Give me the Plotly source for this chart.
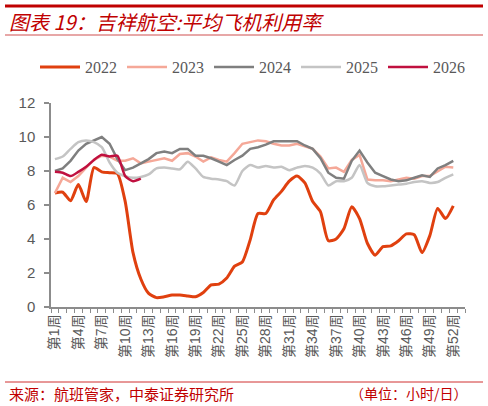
import plotly.graph_objects as go

# weekly average aircraft utilisation (hours/day)
weeks = list(range(1, 53))
tick_weeks = list(range(1, 53, 3))
tick_labels = ["第%d周" % w for w in tick_weeks]

y2022 = [6.7, 6.75, 6.25, 7.2, 6.2, 8.2, 7.95, 7.9, 7.85, 6.2,
         3.2, 1.65, 0.8, 0.55, 0.6, 0.7, 0.7, 0.65, 0.6, 0.85,
         1.3, 1.35, 1.7, 2.4, 2.65, 3.95, 5.5, 5.5, 6.3, 6.8,
         7.4, 7.7, 7.3, 6.2, 5.6, 3.9, 4.0, 4.6, 5.9, 5.2,
         3.75, 3.05, 3.55, 3.6, 3.9, 4.3, 4.25, 3.2, 4.2, 5.8,
         5.2, 5.95]
y2023 = [6.7, 7.6, 7.35, 7.7, 8.2, 8.65, 8.9, 8.85, 8.6, 8.6,
         8.75, 8.45, 8.55, 8.65, 8.75, 8.6, 9.0, 9.05, 8.85, 8.55,
         8.8, 8.65, 8.55, 9.05, 9.6, 9.7, 9.8, 9.75, 9.6, 9.5,
         9.5, 9.6, 9.45, 9.3, 8.85, 8.15, 8.2, 7.95, 8.65, 8.95,
         7.5, 7.45, 7.45, 7.4, 7.5, 7.6, 7.55, 7.7, 7.7, 7.95,
         8.25, 8.2]
y2024 = [8.0, 8.15, 8.6, 9.2, 9.6, 9.8, 10.0, 9.6, 8.7, 8.05,
         8.2, 8.45, 8.7, 9.05, 9.15, 9.05, 9.3, 9.3, 8.9, 8.9,
         8.75, 8.55, 8.35, 8.65, 8.9, 9.3, 9.4, 9.55, 9.75, 9.75,
         9.75, 9.75, 9.5, 9.3, 8.75, 7.9, 7.6, 7.55, 8.6, 9.2,
         8.5, 7.9, 7.7, 7.5, 7.4, 7.45, 7.6, 7.75, 7.65, 8.15,
         8.35, 8.6]
y2025 = [8.7, 8.85, 9.3, 9.7, 9.8, 9.7, 9.4, 8.5, 7.9, 7.7,
         7.6, 7.65, 7.8, 8.15, 8.2, 8.15, 8.1, 8.55, 8.15, 7.65,
         7.55, 7.5, 7.4, 7.15, 8.0, 8.35, 8.2, 8.3, 8.2, 8.25,
         8.05, 8.2, 8.3, 8.2, 7.85, 7.15, 7.4, 7.4, 7.6, 8.35,
         7.3, 7.1, 7.1, 7.15, 7.2, 7.25, 7.35, 7.4, 7.3, 7.35,
         7.6, 7.8]
y2026 = [7.95, 7.9, 7.7, 7.95, 8.25, 8.65, 8.95, 8.85, 8.9, 7.7,
         7.4, 7.55]

series = [
    ("2022", y2022, "#E0400F", 3, "spline"),
    ("2023", y2023, "#F5A898", 2.5, "linear"),
    ("2024", y2024, "#7F7F7F", 2.5, "linear"),
    ("2025", y2025, "#C4C4C4", 2.5, "spline"),
    ("2026", y2026, "#C0103F", 2.5, "spline"),
]

# plot area in pixels: x 51..465, y 103..307
L, R, T, B = 51, 465, 103, 307


def px(x):
    return (x - L) / (R - L)


def py(y):
    return (B - y) / (B - T)


fig = go.Figure()
for name, vals, color, width, shape in series:
    fig.add_trace(go.Scatter(x=weeks[:len(vals)], y=vals, name=name, mode="lines",
                             line=dict(color=color, width=width, shape=shape, smoothing=0.6)))

red = "#C00000"
axis_gray = "#8C8C8C"
text_gray = "#595959"

fig.update_layout(
    width=488, height=406,
    margin=dict(l=L, r=488 - R, t=T, b=406 - B),
    plot_bgcolor="white", paper_bgcolor="white",
    showlegend=True,
    legend=dict(orientation="h", x=px(35), y=py(67), xanchor="left", yanchor="middle",
                itemwidth=40, font=dict(family="Liberation Serif", size=16, color=text_gray),
                bgcolor="rgba(0,0,0,0)"),
    font=dict(family="Liberation Sans, Noto Sans CJK SC", color=text_gray),
)

fig.update_xaxes(range=[0.5, 53.5], tickmode="array", tickvals=tick_weeks, ticktext=tick_labels,
                 tickangle=-90, ticks="", showgrid=False, zeroline=False,
                 showline=True, linecolor=axis_gray, linewidth=1.5,
                 tickfont=dict(size=14, color=text_gray, family="Liberation Sans, Noto Sans CJK SC"),
                 minor=dict(ticks="outside", tick0=0.5, dtick=1, ticklen=4,
                            tickcolor=axis_gray, tickwidth=1.2, showgrid=False))
fig.update_yaxes(range=[0, 12], dtick=2, ticks="outside", ticklen=5, tickcolor=axis_gray,
                 tickwidth=1.5, showgrid=False, zeroline=False,
                 showline=True, linecolor=axis_gray, linewidth=1.5,
                 ticklabelstandoff=6,
                 tickfont=dict(size=15, color=text_gray, family="Liberation Sans"))

# header / footer rules
fig.add_shape(type="line", xref="paper", yref="paper", x0=px(5), x1=px(483), y0=py(6), y1=py(6),
              line=dict(color=red, width=3))
fig.add_shape(type="line", xref="paper", yref="paper", x0=px(5), x1=px(483), y0=py(35), y1=py(35),
              line=dict(color="#D05050", width=1.2))
fig.add_shape(type="line", xref="paper", yref="paper", x0=px(5), x1=px(483), y0=py(382), y1=py(382),
              line=dict(color="#D03030", width=1))

fig.add_annotation(text="图表 19：吉祥航空:平均飞机利用率", xref="paper", yref="paper",
                   x=px(7), y=py(21), xanchor="left", yanchor="middle", showarrow=False,
                   font=dict(family="Noto Sans CJK SC", size=20, color=red, style="italic"))
fig.add_annotation(text="来源：航班管家，中泰证券研究所", xref="paper", yref="paper",
                   x=px(7), y=py(393), xanchor="left", yanchor="middle", showarrow=False,
                   font=dict(family="Noto Sans CJK SC", size=15, color=red))
fig.add_annotation(text="（单位：小时/日）", xref="paper", yref="paper",
                   x=px(470), y=py(393), xanchor="right", yanchor="middle", showarrow=False,
                   font=dict(family="Noto Sans CJK SC", size=14, color=red))

# drop the page's default body margin so the figure sits at the window's corner
fig.write_html("out.html", config={"displayModeBar": False},
               post_script="document.body.style.margin='0';")
